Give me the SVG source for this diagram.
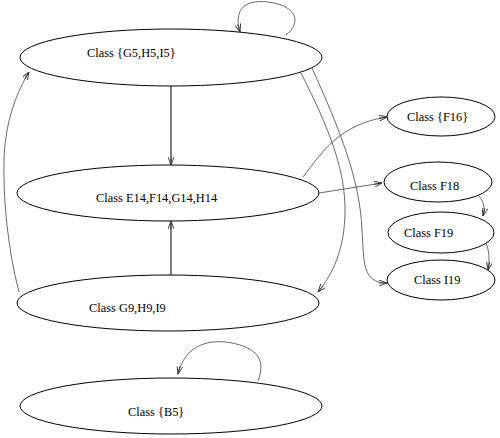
<svg xmlns="http://www.w3.org/2000/svg" width="500" height="438" viewBox="0 0 500 438">
<style>
.n ellipse{fill:#fff;stroke:#000;stroke-width:1}
.n text{font-family:"Liberation Serif",serif;font-size:12.4px;fill:#000}
.e path{fill:none;stroke:#444;stroke-width:0.8}
.e path.d{stroke:#000;stroke-width:1}
</style>
<defs>
<marker id="a" viewBox="0 0 8 6" refX="8" refY="3" markerWidth="8" markerHeight="6" markerUnits="userSpaceOnUse" orient="auto">
<path d="M0,0 L8,3 L0,6 M0,3 L8,3" fill="none" stroke="#333" stroke-width="0.9"/>
</marker>
</defs>
<rect width="500" height="438" fill="#fff"/>
<g id="nodes" class="n">
<g id="G5"><ellipse cx="171" cy="57.5" rx="151" ry="28.5"/><text x="87" y="56.5">Class {G5,H5,I5}</text></g>
<g id="E14"><ellipse cx="168" cy="193" rx="151" ry="28"/><text x="96" y="202">Class E14,F14,G14,H14</text></g>
<g id="G9"><ellipse cx="168" cy="303" rx="151" ry="28"/><text x="89" y="312">Class G9,H9,I9</text></g>
<g id="B5"><ellipse cx="171" cy="406" rx="151" ry="28"/><text x="128" y="416">Class {B5}</text></g>
<g id="F16"><ellipse cx="441" cy="116.5" rx="54" ry="19.5"/><text x="407" y="121">Class {F16}</text></g>
<g id="F18"><ellipse cx="438" cy="182" rx="54" ry="20"/><text x="410" y="190">Class F18</text></g>
<g id="F19"><ellipse cx="441" cy="232.5" rx="53" ry="20.5"/><text x="404" y="237">Class F19</text></g>
<g id="I19"><ellipse cx="441" cy="280" rx="54" ry="20"/><text x="414" y="284">Class I19</text></g>
</g>
<g id="edges" class="e">
<path class="d" d="M171,86 L171,165" marker-end="url(#a)"/>
<path class="d" d="M171,275 L171,221" marker-end="url(#a)"/>
<path d="M286,35 C300,25 300,6 268,2 C242,-1 234,12 240,32" marker-end="url(#a)"/>
<path d="M258,381 C264,365 262,352 240,345 C210,336 185,345 178,374" marker-end="url(#a)"/>
<path d="M19,292 C8,250 3,200 4,160 C5,120 18,90 29,72" marker-end="url(#a)"/>
<path d="M301,73 C330,130 345,170 345,210 C345,250 332,275 318,292" marker-end="url(#a)"/>
<path d="M312,68 C340,130 360,180 362,230 C364,262 362,283 387,283" marker-end="url(#a)"/>
<path d="M303,177 C322,152 340,124 387,117" marker-end="url(#a)"/>
<path d="M319,193 L382,183" marker-end="url(#a)"/>
<path d="M479,196 C484,202 485,208 483,216" marker-end="url(#a)"/>
<path d="M486,243 C489,250 490,260 488,270" marker-end="url(#a)"/>
</g>
</svg>
